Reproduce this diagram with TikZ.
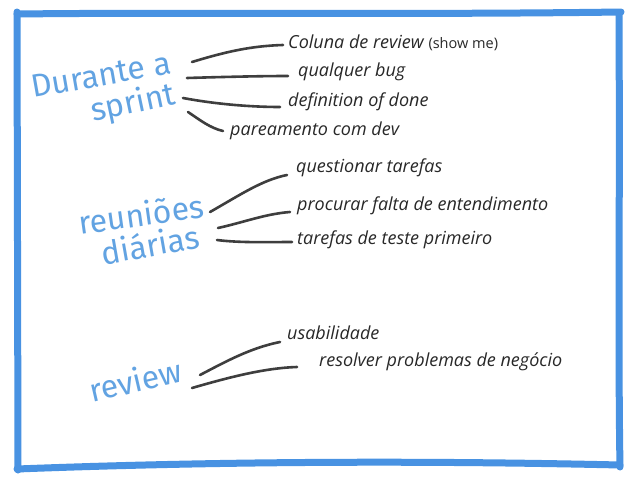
\documentclass[tikz,border=0pt]{standalone}
\usepackage{fontspec}
\setmainfont{Open Sans}
\newfontfamily\headfont{Fira Sans}
\definecolor{framecol}{RGB}{72,146,226}
\definecolor{headcol}{RGB}{98,163,226}
\definecolor{itemcol}{RGB}{40,40,40}
\definecolor{linecol}{RGB}{62,62,62}
\begin{document}
\begin{tikzpicture}[x=1pt,y=-1pt,
  frame/.style={draw=framecol, line width=7pt, line cap=round, line join=round},
  headlbl/.style={text=headcol, font=\headfont\fontsize{32}{36}\selectfont, inner sep=0pt},
  item/.style={text=itemcol, font=\itshape\fontsize{18}{21}\selectfont, anchor=west, inner sep=0pt},
  link/.style={draw=linecol, line width=2.6pt, line cap=round}]
\useasboundingbox (0,0) rectangle (638,479);
\fill[white] (0,0) rectangle (638,479);
% frame
\draw[frame] (17,14) .. controls (200,12) and (400,15) .. (621,12);
\draw[frame] (17,12) -- (18,470);
\draw[frame] (619,13) .. controls (620,200) and (618,350) .. (620,467);
\draw[frame] (17,469) .. controls (200,462) and (400,460) .. (620,465);
% headings
\node[headlbl, rotate=10] (dur1) at (101,75) {Durante a};
\node[headlbl, rotate=12] (dur2) at (133,104) {sprint};
\node[headlbl, rotate=8] (reu1) at (141,214) {reuniões};
\node[headlbl, rotate=10] (reu2) at (150,244) {diárias};
\node[headlbl, rotate=13] (rev) at (135,380) {review};
% items
\node[item] (col) at (288,43) {Coluna de review {\fontsize{14.5}{16}\selectfont\upshape (show me)}};
\node[item] (bug) at (298,72) {qualquer bug};
\node[item] (def) at (288,102) {definition of done};
\node[item] (par) at (230,131) {pareamento com dev};
\node[item] (que) at (296,168) {questionar tarefas};
\node[item] (pro) at (297,206) {procurar falta de entendimento};
\node[item] (tar) at (297,240) {tarefas de teste primeiro};
\node[item] (usa) at (287,333) {usabilidade};
\node[item] (res) at (319,362) {resolver problemas de negócio};
% connector starts
\coordinate (s1) at (192,62);
\coordinate (s2) at (187,78);
\coordinate (s3) at (183,98);
\coordinate (s4) at (188,112);
\coordinate (s5) at (210,212);
\coordinate (s6) at (218,228);
\coordinate (s7) at (217,240);
\coordinate (s8) at (200,375);
\coordinate (s9) at (192,388);
% connectors
\draw[link] (s1) .. controls (225,52) and (250,46) .. ([shift={(-5,2)}]col.west);
\draw[link] (s2) .. controls (220,77) and (260,76) .. ([shift={(-10,4)}]bug.west);
\draw[link] (s3) .. controls (215,104) and (250,107) .. ([shift={(-8,5)}]def.west);
\draw[link] (s4) .. controls (200,120) and (210,128) .. ([shift={(-7,0)}]par.west);
\draw[link] (s5) .. controls (240,195) and (262,180) .. ([shift={(-9,7)}]que.west);
\draw[link] (s6) .. controls (245,222) and (265,214) .. ([shift={(-7,6)}]pro.west);
\draw[link] (s7) .. controls (240,243) and (270,242) .. ([shift={(-5,2)}]tar.west);
\draw[link] (s8) .. controls (225,362) and (250,348) .. ([shift={(-7,9)}]usa.west);
\draw[link] (s9) .. controls (230,377) and (265,368) .. ([shift={(-22,5)}]res.west);
\end{tikzpicture}
\end{document}
